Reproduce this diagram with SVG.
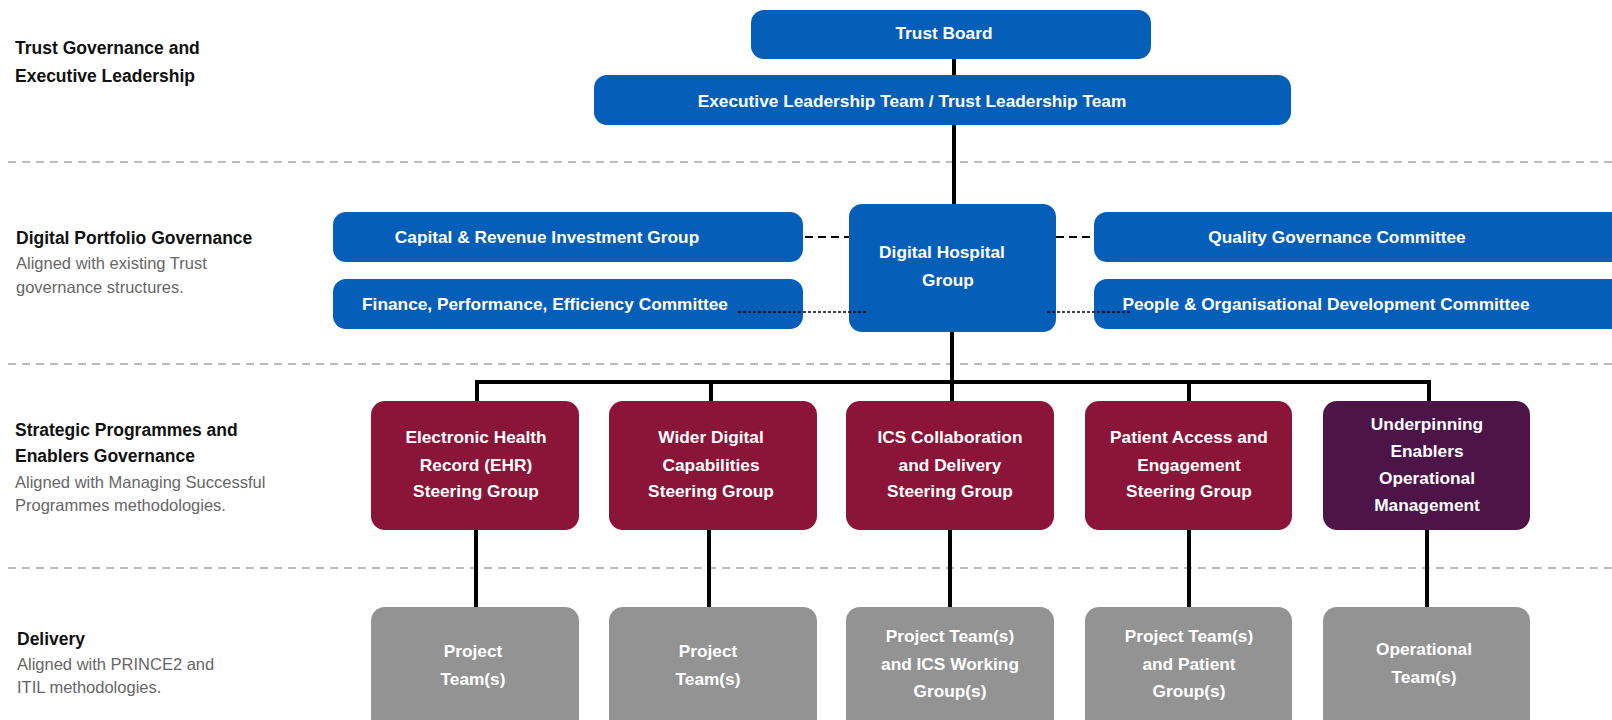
<svg xmlns="http://www.w3.org/2000/svg" width="1612" height="720" viewBox="0 0 1612 720">
  <style>
    .lbl { font-family: "Liberation Sans", Arial, sans-serif; font-weight: bold; font-size: 17.5px; fill: #111; }
    .sub { font-family: "Liberation Sans", Arial, sans-serif; font-size: 16.5px; fill: #666; }
    .bt { font-family: "Liberation Sans", Arial, sans-serif; font-weight: bold; font-size: 17.3px; fill: #fff; text-anchor: middle; }
    .blue { fill: #055eb8; }
    .crim { fill: #8a1538; }
    .purp { fill: #4c1447; }
    .grey { fill: #939393; }
    .sep { stroke: #a6a6a6; stroke-width: 1.5; stroke-dasharray: 8 6; fill: none; }
    .tree { stroke: #000; stroke-width: 4; fill: none; }
    .link { stroke: #000; stroke-width: 1.8; stroke-dasharray: 8 5; fill: none; }
    .dot { stroke: #000; stroke-width: 1.6; stroke-dasharray: 3 2; fill: none; }
  </style>

  <!-- tier separators -->
  <g id="separators">
    <line class="sep" x1="8" y1="162" x2="1612" y2="162"/>
    <line class="sep" x1="8" y1="364" x2="1612" y2="364"/>
    <line class="sep" x1="8" y1="568" x2="1612" y2="568"/>
  </g>

  <!-- tier headings -->
  <g id="tier-labels">
    <text class="lbl" x="15" y="54">Trust Governance and</text>
    <text class="lbl" x="15" y="82">Executive Leadership</text>
    <text class="lbl" x="16" y="244">Digital Portfolio Governance</text>
    <text class="sub" x="16" y="269">Aligned with existing Trust</text>
    <text class="sub" x="16" y="293">governance structures.</text>
    <text class="lbl" x="15" y="436">Strategic Programmes and</text>
    <text class="lbl" x="15" y="462">Enablers Governance</text>
    <text class="sub" x="15" y="488">Aligned with Managing Successful</text>
    <text class="sub" x="15" y="511">Programmes methodologies.</text>
    <text class="lbl" x="17" y="645">Delivery</text>
    <text class="sub" x="17" y="670">Aligned with PRINCE2 and</text>
    <text class="sub" x="17" y="693">ITIL methodologies.</text>
  </g>

  <!-- connectors -->
  <g id="connectors">
    <line class="tree" x1="954" y1="58" x2="954" y2="206"/>
    <line class="tree" x1="952" y1="330" x2="952" y2="382"/>
    <line class="tree" x1="475" y1="382" x2="1431" y2="382"/>
    <line class="tree" x1="477" y1="380" x2="477" y2="402"/>
    <line class="tree" x1="711" y1="380" x2="711" y2="402"/>
    <line class="tree" x1="952" y1="380" x2="952" y2="402"/>
    <line class="tree" x1="1189" y1="380" x2="1189" y2="402"/>
    <line class="tree" x1="1429" y1="380" x2="1429" y2="402"/>
    <line class="tree" x1="476" y1="529" x2="476" y2="608"/>
    <line class="tree" x1="709" y1="529" x2="709" y2="608"/>
    <line class="tree" x1="950" y1="529" x2="950" y2="608"/>
    <line class="tree" x1="1189" y1="529" x2="1189" y2="608"/>
    <line class="tree" x1="1427" y1="529" x2="1427" y2="608"/>
    <line class="link" x1="805" y1="237" x2="849" y2="237"/>
    <line class="link" x1="1056" y1="237" x2="1094" y2="237"/>
  </g>

  <!-- trust governance -->
  <g id="trust-board">
    <rect class="blue" x="751" y="10" width="400" height="49" rx="13"/>
    <text class="bt" x="944" y="39">Trust Board</text>
  </g>
  <g id="executive-leadership">
    <rect class="blue" x="594" y="75" width="697" height="50" rx="13"/>
    <text class="bt" x="912" y="107">Executive Leadership Team / Trust Leadership Team</text>
  </g>

  <!-- digital portfolio governance -->
  <g id="capital-revenue">
    <rect class="blue" x="333" y="212" width="470" height="50" rx="13"/>
    <text class="bt" x="547" y="243">Capital &amp; Revenue Investment Group</text>
  </g>
  <g id="finance-performance">
    <rect class="blue" x="333" y="279" width="470" height="50" rx="13"/>
    <text class="bt" x="545" y="310">Finance, Performance, Efficiency Committee</text>
  </g>
  <g id="digital-hospital-group">
    <rect class="blue" x="849" y="204" width="207" height="128" rx="13"/>
    <text class="bt" x="942" y="258">Digital Hospital</text>
    <text class="bt" x="948" y="286">Group</text>
  </g>
  <g id="quality-governance">
    <rect class="blue" x="1094" y="212" width="530" height="50" rx="13"/>
    <text class="bt" x="1337" y="243">Quality Governance Committee</text>
  </g>
  <g id="people-od">
    <rect class="blue" x="1094" y="279" width="530" height="50" rx="13"/>
    <text class="bt" x="1326" y="310">People &amp; Organisational Development Committee</text>
  </g>
  <g id="dotted-links">
    <line class="dot" x1="738" y1="312" x2="867" y2="312"/>
    <line class="dot" x1="1047" y1="312" x2="1131" y2="312"/>
  </g>

  <!-- strategic programmes and enablers -->
  <g id="ehr-steering">
    <rect class="crim" x="371" y="401" width="208" height="129" rx="14"/>
    <text class="bt" x="476" y="443">Electronic Health</text>
    <text class="bt" x="476" y="471">Record (EHR)</text>
    <text class="bt" x="476" y="497">Steering Group</text>
  </g>
  <g id="wider-digital-steering">
    <rect class="crim" x="609" y="401" width="208" height="129" rx="14"/>
    <text class="bt" x="711" y="443">Wider Digital</text>
    <text class="bt" x="711" y="471">Capabilities</text>
    <text class="bt" x="711" y="497">Steering Group</text>
  </g>
  <g id="ics-steering">
    <rect class="crim" x="846" y="401" width="208" height="129" rx="14"/>
    <text class="bt" x="950" y="443">ICS Collaboration</text>
    <text class="bt" x="950" y="471">and Delivery</text>
    <text class="bt" x="950" y="497">Steering Group</text>
  </g>
  <g id="patient-access-steering">
    <rect class="crim" x="1085" y="401" width="207" height="129" rx="14"/>
    <text class="bt" x="1189" y="443">Patient Access and</text>
    <text class="bt" x="1189" y="471">Engagement</text>
    <text class="bt" x="1189" y="497">Steering Group</text>
  </g>
  <g id="underpinning-enablers">
    <rect class="purp" x="1323" y="401" width="207" height="129" rx="14"/>
    <text class="bt" x="1427" y="430">Underpinning</text>
    <text class="bt" x="1427" y="457">Enablers</text>
    <text class="bt" x="1427" y="484">Operational</text>
    <text class="bt" x="1427" y="511">Management</text>
  </g>

  <!-- delivery -->
  <g id="ehr-delivery">
    <rect class="grey" x="371" y="607" width="208" height="130" rx="14"/>
    <text class="bt" x="473" y="657">Project</text>
    <text class="bt" x="473" y="685">Team(s)</text>
  </g>
  <g id="wider-digital-delivery">
    <rect class="grey" x="609" y="607" width="208" height="130" rx="14"/>
    <text class="bt" x="708" y="657">Project</text>
    <text class="bt" x="708" y="685">Team(s)</text>
  </g>
  <g id="ics-delivery">
    <rect class="grey" x="846" y="607" width="208" height="130" rx="14"/>
    <text class="bt" x="950" y="642">Project Team(s)</text>
    <text class="bt" x="950" y="670">and ICS Working</text>
    <text class="bt" x="950" y="697">Group(s)</text>
  </g>
  <g id="patient-delivery">
    <rect class="grey" x="1085" y="607" width="207" height="130" rx="14"/>
    <text class="bt" x="1189" y="642">Project Team(s)</text>
    <text class="bt" x="1189" y="670">and Patient</text>
    <text class="bt" x="1189" y="697">Group(s)</text>
  </g>
  <g id="operational-delivery">
    <rect class="grey" x="1323" y="607" width="207" height="130" rx="14"/>
    <text class="bt" x="1424" y="655">Operational</text>
    <text class="bt" x="1424" y="683">Team(s)</text>
  </g>
</svg>
